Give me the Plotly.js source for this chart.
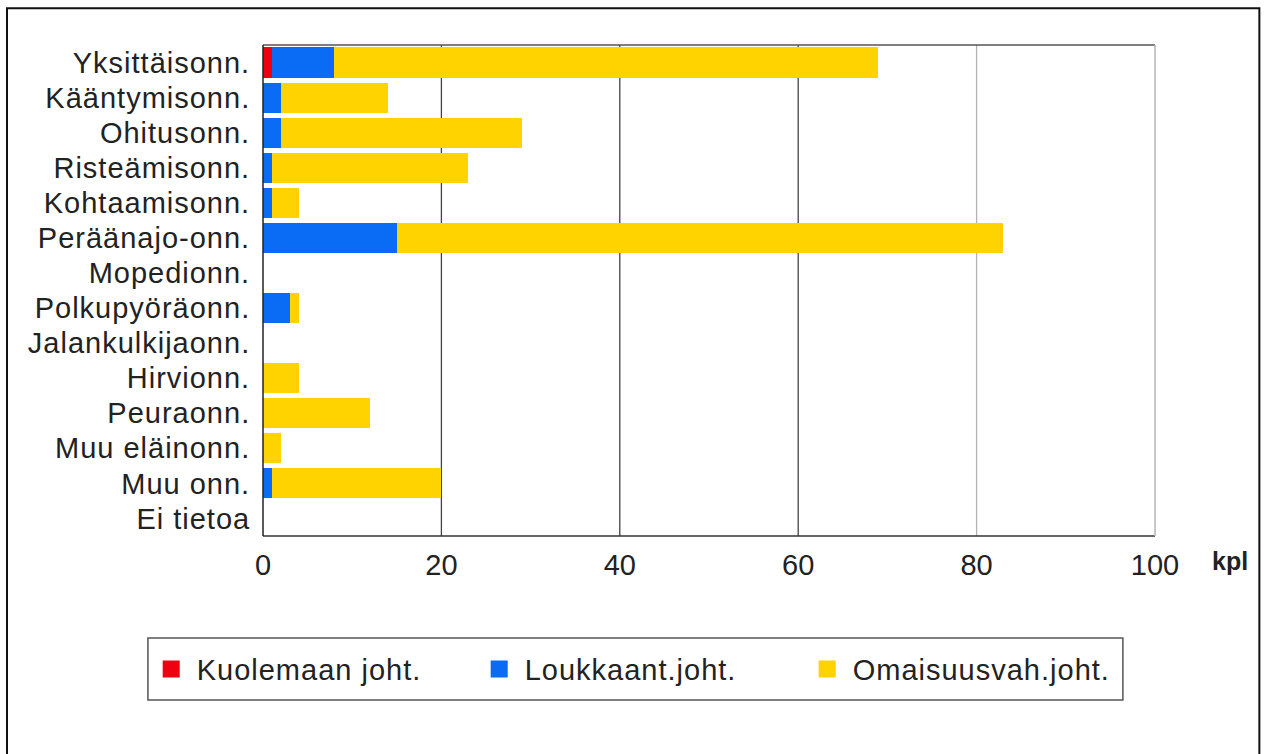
<!DOCTYPE html>
<html>
<head>
<meta charset="utf-8">
<script src="https://cdn.plot.ly/plotly-3.0.1.min.js"></script>
<style>
html,body{margin:0;padding:0;background:#fff;}
#chart{width:1266px;height:754px;}
#chart .ytick text, #chart .legendtext{letter-spacing:1px;}
</style>
</head>
<body>
<div id="chart"></div>
<script>
const categories = ["Yksittäisonn.", "Kääntymisonn.", "Ohitusonn.", "Risteämisonn.", "Kohtaamisonn.", "Peräänajo-onn.", "Mopedionn.", "Polkupyöräonn.", "Jalankulkijaonn.", "Hirvionn.", "Peuraonn.", "Muu eläinonn.", "Muu onn.", "Ei tietoa"];
const kuolemaan = [1, 0, 0, 0, 0, 0, 0, 0, 0, 0, 0, 0, 0, 0];
const loukkaant = [7, 2, 2, 1, 1, 15, 0, 3, 0, 0, 0, 0, 1, 0];
const omaisuus = [61, 12, 27, 22, 3, 68, 0, 1, 0, 4, 12, 2, 19, 0];
const seriesNames = ["Kuolemaan joht.", "Loukkaant.joht.", "Omaisuusvah.joht."];
const xTicks = [0, 20, 40, 60, 80, 100];

const colors = ["#ee0010", "#0a6cf5", "#ffd300"];
const font = "Liberation Sans, Arial, sans-serif";

const traces = [kuolemaan, loukkaant, omaisuus].map((vals, i) => ({
  type: "bar",
  orientation: "h",
  y: categories,
  x: vals,
  name: seriesNames[i],
  marker: {color: colors[i], line: {width: 0}},
  hoverinfo: "x+y+name"
}));

// grid lines drawn from tick array
const shapes = xTicks.filter(t => t > 0 && t < 100).map(t => ({
  type: "line", xref: "x", yref: "paper", x0: t, x1: t, y0: 0, y1: 1,
  line: {color: t === 80 ? "#b4b4b4" : "#444", width: 1.3}, layer: "below"
}));
// plot frame
shapes.push({type: "line", xref: "paper", yref: "paper", x0: 0, x1: 1, y0: 1, y1: 1, line: {color: "#555", width: 1.5}});
shapes.push({type: "line", xref: "paper", yref: "paper", x0: 0, x1: 1, y0: 0, y1: 0, line: {color: "#333", width: 1.5}});
shapes.push({type: "line", xref: "paper", yref: "paper", x0: 1, x1: 1, y0: 0, y1: 1, line: {color: "#b4b4b4", width: 1.5}});
shapes.push({type: "line", xref: "paper", yref: "paper", x0: 0, x1: 0, y0: 0, y1: 1, line: {color: "#222", width: 1.5}});
// legend box
shapes.push({type: "rect", xref: "paper", yref: "paper", x0: -0.129, x1: 0.964, y0: -0.334, y1: -0.2077, line: {color: "#555", width: 1.5}});
// outer border
shapes.push({type: "rect", xref: "paper", yref: "paper", x0: -0.287, x1: 1.117, y0: -0.45, y1: 1.075, line: {color: "#111", width: 2}});

const layout = {
  width: 1266, height: 754,
  margin: {l: 263, r: 111, t: 45, b: 218, pad: 0},
  paper_bgcolor: "#fff", plot_bgcolor: "#fff",
  barmode: "stack",
  bargap: 0.14,
  showlegend: true,
  font: {family: font, size: 29, color: "#222"},
  xaxis: {
    range: [0, 100], tickvals: xTicks, ticktext: xTicks.map(String),
    showgrid: false, zeroline: false, showline: false,
    ticks: "outside", ticklen: 3, tickcolor: "rgba(0,0,0,0)",
    tickfont: {size: 29, color: "#222"}, automargin: false
  },
  yaxis: {
    autorange: "reversed", showgrid: false, zeroline: false, showline: false,
    ticks: "outside", ticklen: 6, tickcolor: "rgba(0,0,0,0)",
    tickfont: {size: 29, color: "#222"}, automargin: false
  },
  legend: {
    orientation: "h", x: -0.1315, xanchor: "left", y: -0.271, yanchor: "middle",
    entrywidth: 272, entrywidthmode: "pixels", itemwidth: 41,
    font: {size: 29, color: "#222"}, bgcolor: "rgba(0,0,0,0)", borderwidth: 0,
    traceorder: "normal"
  },
  annotations: [{
    text: "<b>kpl</b>", xref: "paper", yref: "paper", x: 1.0617, y: -0.05,
    xanchor: "left", yanchor: "middle", showarrow: false, font: {size: 25, color: "#222"}
  }],
  shapes: shapes
};

Plotly.newPlot("chart", traces, layout, {displayModeBar: false}).then(gd => {
  // enlarge legend swatches, keeping their own placement
  gd.querySelectorAll(".legendpoints path").forEach(p => {
    const t = p.getAttribute("transform") || "";
    p.setAttribute("transform", (t + " scale(1.42)").trim());
  });
});
</script>
</body>
</html>
